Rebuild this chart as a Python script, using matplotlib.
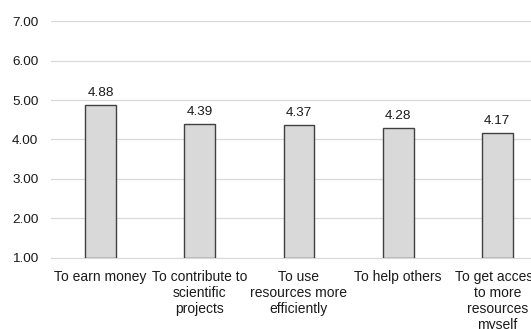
import matplotlib.pyplot as plt
import numpy as np

plt.rcParams['font.family'] = ['Liberation Sans', 'DejaVu Sans']

# категории и средние оценки
labels = ['To earn money', 'To contribute to\nscientific\nprojects',
          'To use\nresources more\nefficiently', 'To help others',
          'To get access\nto more\nresources\nmyself']
values = [4.88, 4.39, 4.37, 4.28, 4.17]
yticks = [1, 2, 3, 4, 5, 6, 7]

fig = plt.figure(figsize=(5.31, 3.29), dpi=100)
# ось немного шире рисунка, последняя подпись обрезается справа
ax = fig.add_axes([0.096, 0.216, 0.934, 0.72])

x = np.arange(len(values))
bars = ax.bar(x, np.array(values) - 1, bottom=1, width=0.31,
              color='#d9d9d9', edgecolor='#404040', linewidth=1.0, zorder=3)

for xi, v in zip(x, values):
    ax.annotate(f'{v:.2f}', (xi, v), xytext=(0, 4.5), textcoords='offset points',
                ha='center', va='bottom', fontsize=9.7, color='#1a1a1a')

ax.set_xlim(-0.5, len(values) - 0.5)
ax.set_ylim(1, 7)
ax.set_yticks(yticks)
ax.set_yticklabels([f'{t:.2f}' for t in yticks], fontsize=9.7, color='#1a1a1a')
ax.set_xticks(x)
ax.set_xticklabels(labels, fontsize=10, color='#1a1a1a', linespacing=1.2)

ax.grid(axis='y', color='#d9d9d9', linewidth=0.9, zorder=0)
for side in ['top', 'right', 'left']:
    ax.spines[side].set_visible(False)
ax.spines['bottom'].set_color('#d9d9d9')
ax.tick_params(axis='both', length=0)
ax.tick_params(axis='x', pad=8.5)
ax.tick_params(axis='y', pad=9)

fig.savefig('out.png', dpi=100)
